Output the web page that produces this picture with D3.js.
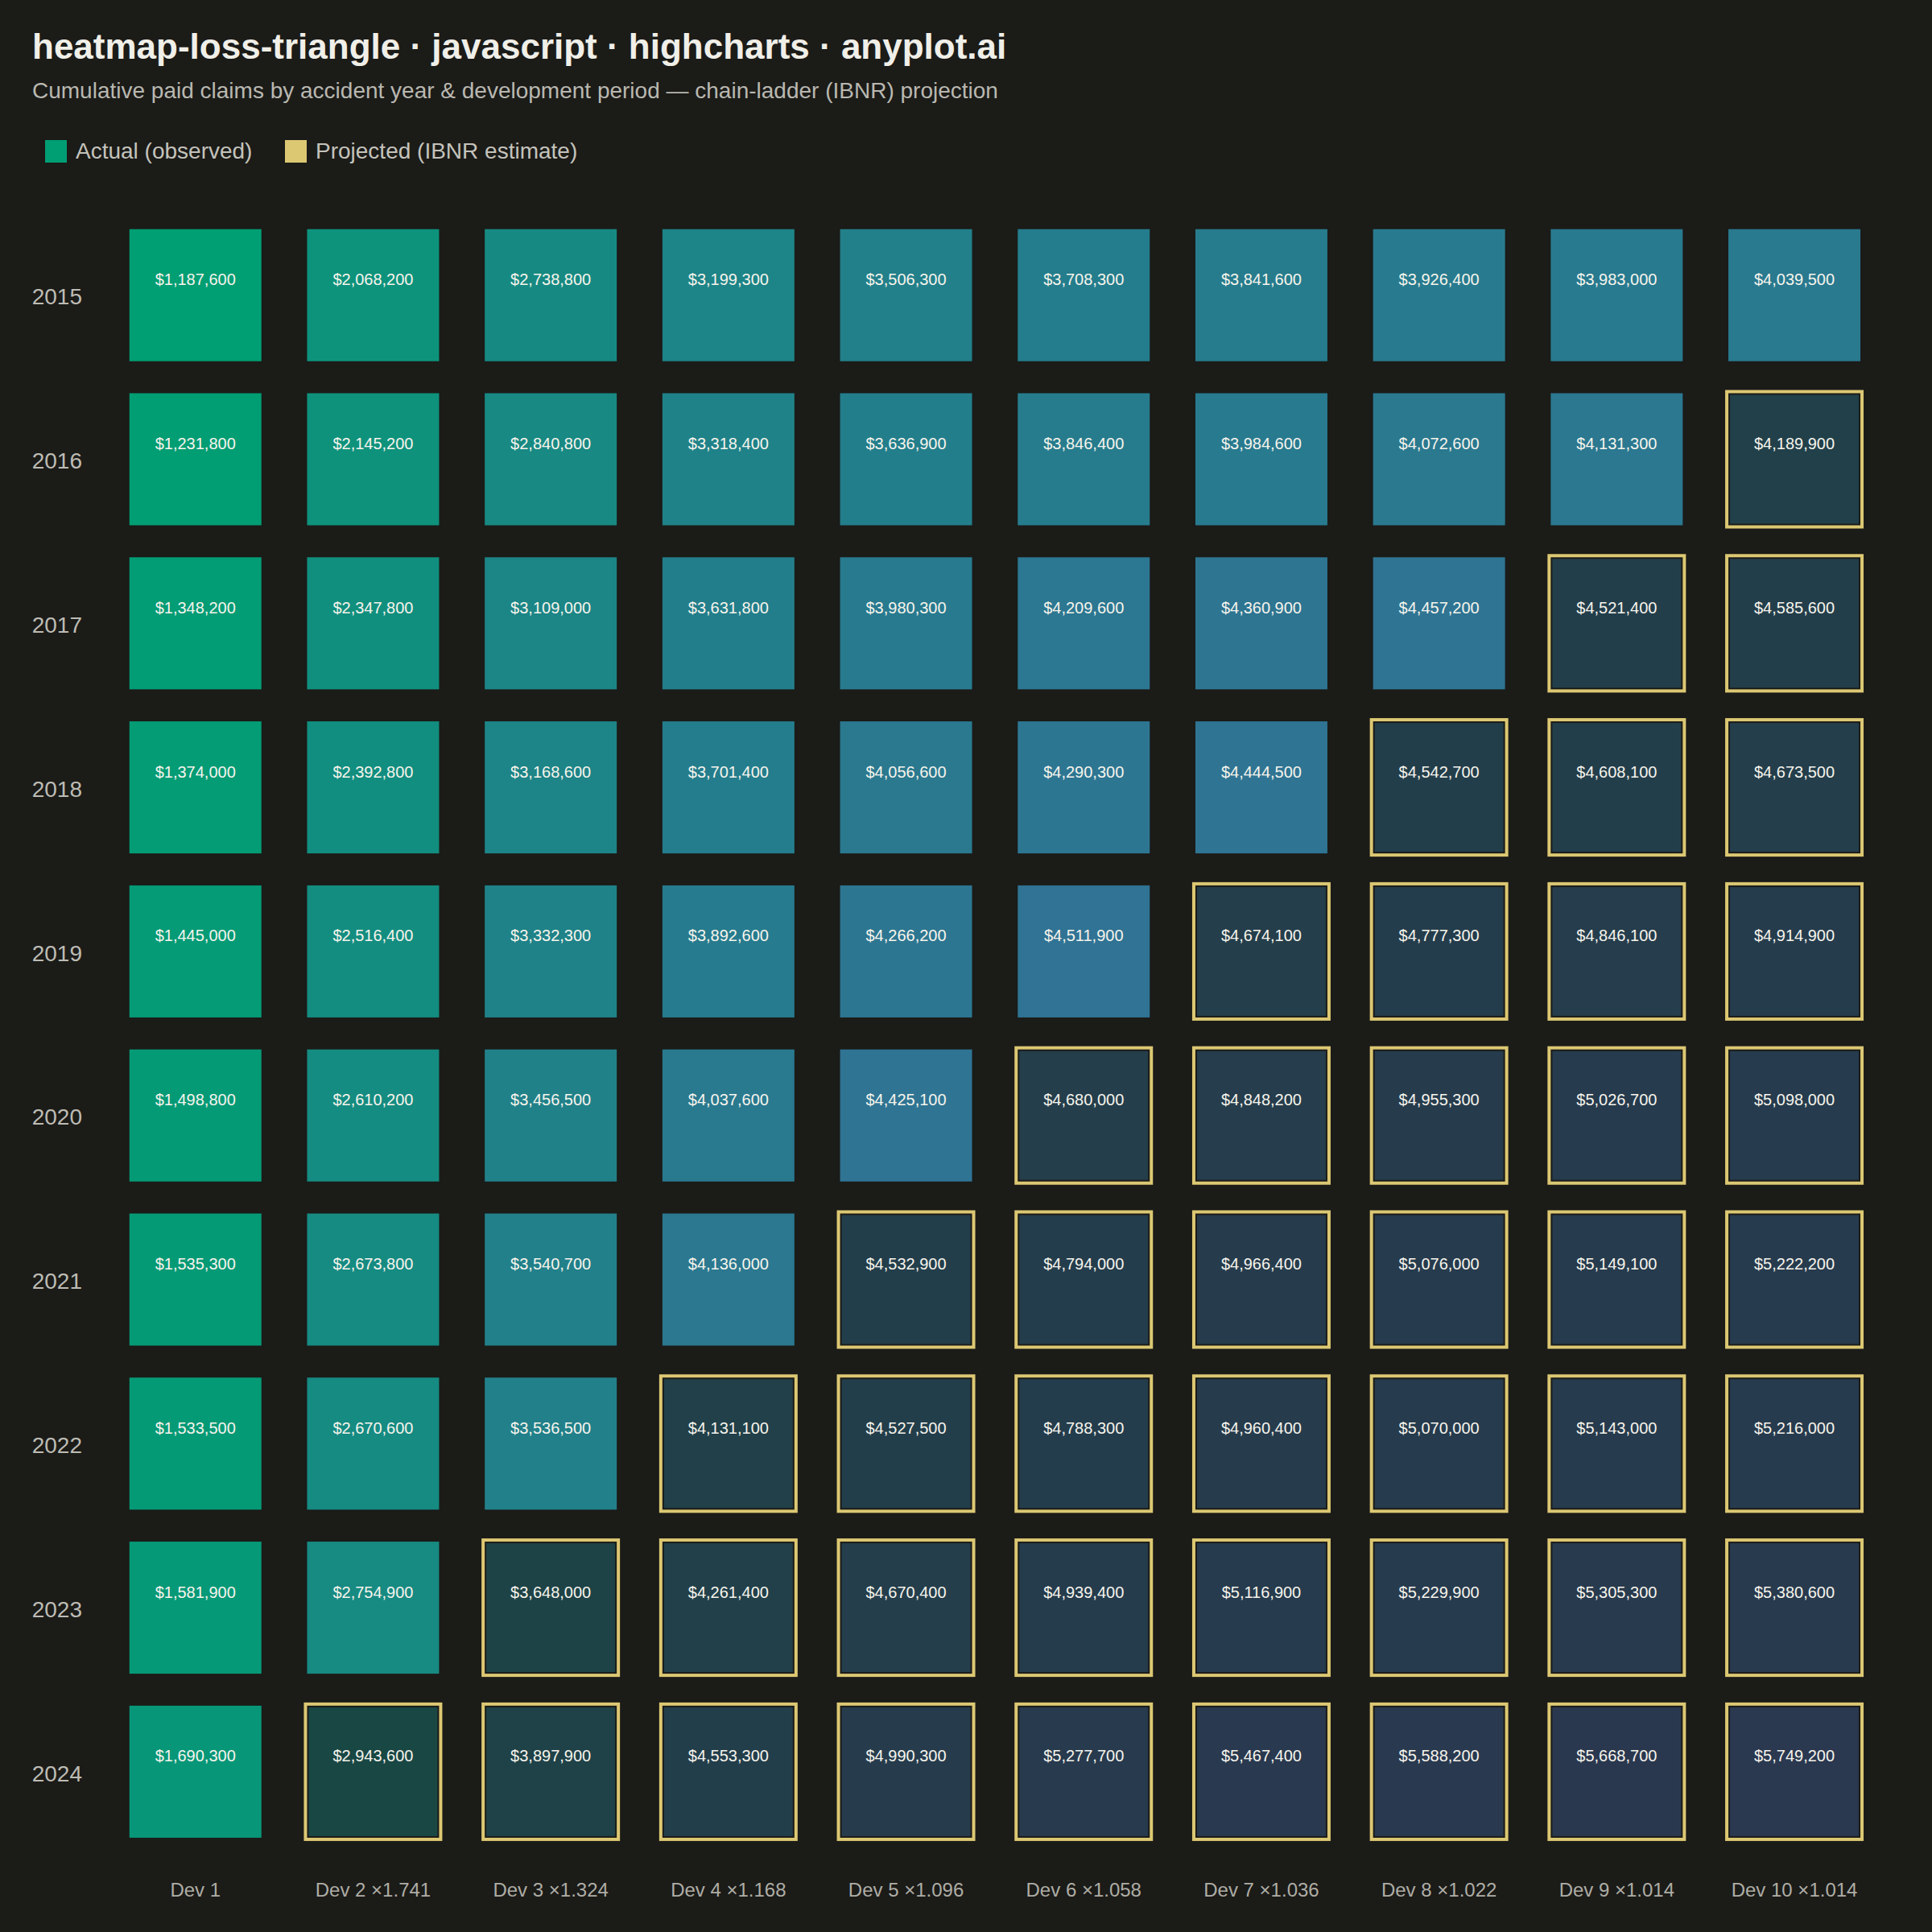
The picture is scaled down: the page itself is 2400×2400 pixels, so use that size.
<!DOCTYPE html>
<html>
<head>
<meta charset="utf-8">
<script src="https://cdn.jsdelivr.net/npm/d3@7"></script>
<style>
	html, body { margin: 0; padding: 0; background: #1b1b18; }
	#chart { width: 2400px; height: 2400px; }
	text { font-family: 'Liberation Sans', Arial, sans-serif; }
</style>
</head>
<body>
<div id="chart"></div>
<script>
// accident years (rows) and development periods (columns)
const accidentYears = ['2015', '2016', '2017', '2018', '2019', '2020', '2021', '2022', '2023', '2024'];
const devPeriods = ['Dev 1', 'Dev 2', 'Dev 3', 'Dev 4', 'Dev 5', 'Dev 6', 'Dev 7', 'Dev 8', 'Dev 9', 'Dev 10'];
const devFactors = ['', '1.741', '1.324', '1.168', '1.096', '1.058', '1.036', '1.022', '1.014', '1.014'];

// how many periods are observed for each accident year (the rest is projected)
const observedPeriods = [10, 9, 8, 7, 6, 5, 4, 3, 2, 1];

// cumulative paid claims, one row per accident year
const claims2015 = [1187600, 2068200, 2738800, 3199300, 3506300, 3708300, 3841600, 3926400, 3983000, 4039500];
const claims2016 = [1231800, 2145200, 2840800, 3318400, 3636900, 3846400, 3984600, 4072600, 4131300, 4189900];
const claims2017 = [1348200, 2347800, 3109000, 3631800, 3980300, 4209600, 4360900, 4457200, 4521400, 4585600];
const claims2018 = [1374000, 2392800, 3168600, 3701400, 4056600, 4290300, 4444500, 4542700, 4608100, 4673500];
const claims2019 = [1445000, 2516400, 3332300, 3892600, 4266200, 4511900, 4674100, 4777300, 4846100, 4914900];
const claims2020 = [1498800, 2610200, 3456500, 4037600, 4425100, 4680000, 4848200, 4955300, 5026700, 5098000];
const claims2021 = [1535300, 2673800, 3540700, 4136000, 4532900, 4794000, 4966400, 5076000, 5149100, 5222200];
const claims2022 = [1533500, 2670600, 3536500, 4131100, 4527500, 4788300, 4960400, 5070000, 5143000, 5216000];
const claims2023 = [1581900, 2754900, 3648000, 4261400, 4670400, 4939400, 5116900, 5229900, 5305300, 5380600];
const claims2024 = [1690300, 2943600, 3897900, 4553300, 4990300, 5277700, 5467400, 5588200, 5668700, 5749200];

const claimRows = [claims2015, claims2016, claims2017, claims2018, claims2019,
	claims2020, claims2021, claims2022, claims2023, claims2024];

class LossTriangle {
	constructor({ element }) {
		this.element = element;
		this.width = 2400;
		this.height = 2400;
		this.margin = { top: 264.8, right: 60.6, bottom: 97.2, left: 132.4 };

		this.data = [];
		claimRows.forEach((row, i) => {
			row.forEach((v, j) => {
				this.data.push({
					year: accidentYears[i],
					dev: devPeriods[j],
					value: v,
					projected: j >= observedPeriods[i],
				});
			});
		});

		this.draw();
	}

	draw() {
		this.element.innerHTML = '';
		this.svg = d3.select(this.element).append('svg')
			.attr('width', this.width)
			.attr('height', this.height)
			.attr('viewBox', `0 0 ${this.width} ${this.height}`);

		this.svg.append('rect')
			.attr('width', this.width)
			.attr('height', this.height)
			.attr('fill', '#1b1b18');

		this.addHeader();
		this.createScales();
		this.addAxes();
		this.addCells();
	}

	addHeader() {
		this.svg.append('text')
			.attr('x', 40).attr('y', 73)
			.attr('fill', '#f0efe8')
			.style('font-size', '44px')
			.style('font-weight', 'bold')
			.text('heatmap-loss-triangle · javascript · highcharts · anyplot.ai');

		this.svg.append('text')
			.attr('x', 40).attr('y', 122)
			.attr('fill', '#b9b8b0')
			.style('font-size', '28px')
			.text('Cumulative paid claims by accident year & development period — chain-ladder (IBNR) projection');

		const legend = [
			{ label: 'Actual (observed)', color: '#009E73', x: 56 },
			{ label: 'Projected (IBNR estimate)', color: '#dcc873', x: 354 },
		];
		const items = this.svg.append('g').attr('class', 'legend')
			.selectAll('g').data(legend).join('g')
			.attr('transform', (d) => `translate(${d.x},174)`);
		items.append('rect')
			.attr('width', 27).attr('height', 28)
			.attr('fill', (d) => d.color);
		items.append('text')
			.attr('x', 38).attr('y', 23)
			.attr('fill', '#c4c3bb')
			.style('font-size', '28px')
			.text((d) => d.label);
	}

	createScales() {
		const m = this.margin;

		this.xScale = d3.scaleBand()
			.domain(devPeriods)
			.range([m.left, this.width - m.right])
			.paddingInner(0.257)
			.paddingOuter(0.1285);

		this.yScale = d3.scaleBand()
			.domain(accidentYears)
			.range([m.top, this.height - m.bottom])
			.paddingInner(0.195)
			.paddingOuter(0.0975);

		const extent = d3.extent(this.data, (d) => d.value);
		this.colorScale = d3.scaleLinear()
			.domain(extent)
			.range(['#009E73', '#4263a0'])
			.interpolate(d3.interpolateRgb);
	}

	addAxes() {
		const xAxis = d3.axisBottom(this.xScale)
			.tickSize(0)
			.tickPadding(0)
			.tickFormat((d, i) => devFactors[i] ? `${d} ×${devFactors[i]}` : d);

		const gx = this.svg.append('g')
			.attr('class', 'x axis')
			.attr('transform', `translate(0,2356)`)
			.call(xAxis);
		gx.select('.domain').remove();
		gx.selectAll('text')
			.attr('dy', null)
			.attr('y', 0)
			.attr('fill', '#aeada5')
			.style('font-size', '24px')
			.style('font-family', "'Liberation Sans', Arial, sans-serif");

		const yAxis = d3.axisLeft(this.yScale)
			.tickSize(0)
			.tickPadding(0);

		const gy = this.svg.append('g')
			.attr('class', 'y axis')
			.attr('transform', `translate(102,0)`)
			.call(yAxis);
		gy.select('.domain').remove();
		gy.selectAll('text')
			.attr('dy', '0.42em')
			.attr('fill', '#bdbcb4')
			.style('font-size', '28px')
			.style('font-family', "'Liberation Sans', Arial, sans-serif");
	}

	addCells() {
		const bw = this.xScale.bandwidth();
		const bh = this.yScale.bandwidth();

		const cells = this.svg.append('g').attr('class', 'cells')
			.selectAll('g').data(this.data).join('g')
			.attr('transform', (d) => `translate(${this.xScale(d.dev)},${this.yScale(d.year)})`);

		cells.filter((d) => !d.projected)
			.append('rect')
			.attr('width', bw)
			.attr('height', bh)
			.attr('fill', (d) => this.colorScale(d.value));

		const proj = cells.filter((d) => d.projected);
		proj.append('rect')
			.attr('x', 2).attr('y', 2)
			.attr('width', bw - 4)
			.attr('height', bh - 4)
			.attr('fill', (d) => this.colorScale(d.value))
			.attr('fill-opacity', 0.41);
		proj.append('rect')
			.attr('x', -2).attr('y', -2)
			.attr('width', bw + 4)
			.attr('height', bh + 4)
			.attr('fill', 'none')
			.attr('stroke', '#dcc873')
			.attr('stroke-width', 4);

		const fmt = d3.format('$,.0f');
		cells.append('text')
			.attr('x', bw / 2)
			.attr('y', 69.5)
			.attr('text-anchor', 'middle')
			.attr('fill', '#f6f4ec')
			.style('font-size', '20px')
			.text((d) => fmt(d.value));
	}
}

new LossTriangle({ element: document.getElementById('chart') });
</script>
</body>
</html>
